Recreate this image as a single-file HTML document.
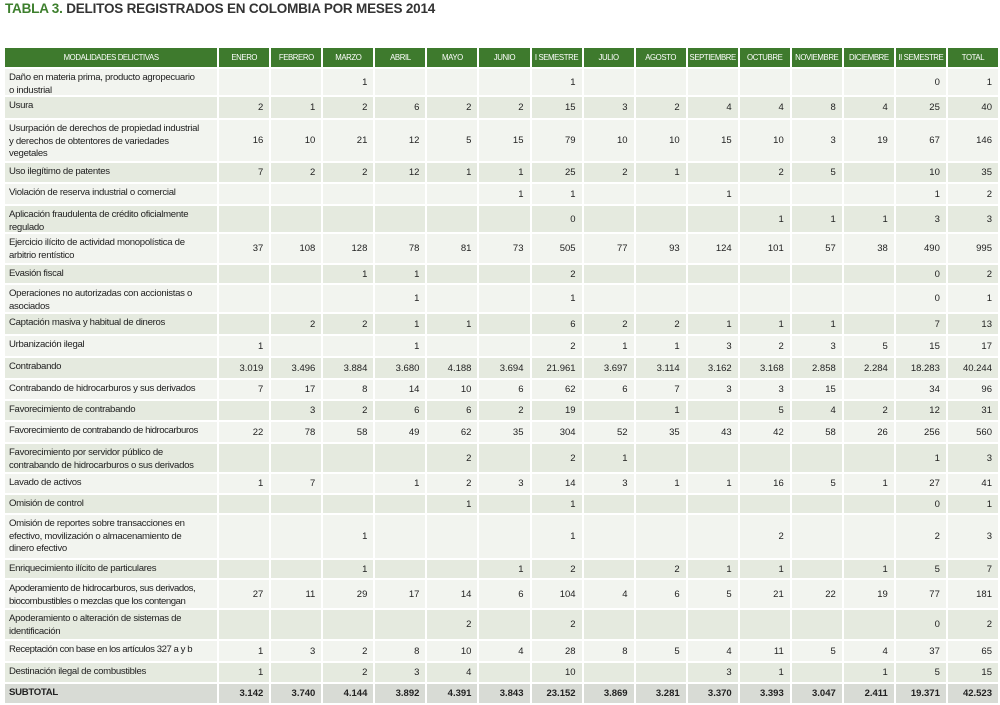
<!DOCTYPE html>
<html><head><meta charset="utf-8"><style>
body{margin:0;background:#fff;width:1000px;height:705px;overflow:hidden;font-family:"Liberation Sans",sans-serif;}
h1{position:absolute;left:5px;top:1px;margin:0;font-size:13.5px;font-weight:bold;color:#333;letter-spacing:-0.2px}
h1 span{color:#3d7f2d}
table{position:absolute;left:3px;top:46px;border-collapse:separate;border-spacing:2px;table-layout:fixed;width:997px}
td,th{padding:0;font-size:9.5px;color:#222;overflow:hidden}
th{background:#3e7a2d;color:#fff;font-weight:normal;font-size:7.8px;height:19px;text-align:center;letter-spacing:-0.4px;white-space:nowrap}
td{text-align:right;padding-right:6px;vertical-align:middle}
td:first-child{text-align:left;padding-left:4px;padding-right:0;vertical-align:top;line-height:12.5px;letter-spacing:-0.3px;font-size:9.6px;white-space:nowrap}
td:first-child div{overflow:hidden;padding-top:3px;box-sizing:border-box}
tr.a td{background:#f2f4ef}
tr.b td{background:#e5eadf}
tr.s td{background:#d8dbd5;font-weight:bold}
</style></head><body>
<h1><span>TABLA 3.</span> DELITOS REGISTRADOS EN COLOMBIA POR MESES 2014</h1>
<table>
<colgroup><col style="width:212px"><col span="15" style="width:50px"></colgroup>
<tr><th>MODALIDADES DELICTIVAS</th><th>ENERO</th><th>FEBRERO</th><th>MARZO</th><th>ABRIL</th><th>MAYO</th><th>JUNIO</th><th>I SEMESTRE</th><th>JULIO</th><th>AGOSTO</th><th>SEPTIEMBRE</th><th>OCTUBRE</th><th>NOVIEMBRE</th><th>DICIEMBRE</th><th>II SEMESTRE</th><th>TOTAL</th></tr>
<tr class="a"><td><div style="height:26px">Daño en materia prima, producto agropecuario<br>o industrial</div></td><td></td><td></td><td>1</td><td></td><td></td><td></td><td>1</td><td></td><td></td><td></td><td></td><td></td><td></td><td>0</td><td>1</td></tr>
<tr class="b"><td><div style="height:21px">Usura</div></td><td>2</td><td>1</td><td>2</td><td>6</td><td>2</td><td>2</td><td>15</td><td>3</td><td>2</td><td>4</td><td>4</td><td>8</td><td>4</td><td>25</td><td>40</td></tr>
<tr class="a"><td><div style="height:41px">Usurpación de derechos de propiedad industrial<br>y derechos de obtentores de variedades<br>vegetales</div></td><td>16</td><td>10</td><td>21</td><td>12</td><td>5</td><td>15</td><td>79</td><td>10</td><td>10</td><td>15</td><td>10</td><td>3</td><td>19</td><td>67</td><td>146</td></tr>
<tr class="b"><td><div style="height:19px">Uso ilegítimo de patentes</div></td><td>7</td><td>2</td><td>2</td><td>12</td><td>1</td><td>1</td><td>25</td><td>2</td><td>1</td><td></td><td>2</td><td>5</td><td></td><td>10</td><td>35</td></tr>
<tr class="a"><td><div style="height:20px">Violación de reserva industrial o comercial</div></td><td></td><td></td><td></td><td></td><td></td><td>1</td><td>1</td><td></td><td></td><td>1</td><td></td><td></td><td></td><td>1</td><td>2</td></tr>
<tr class="b"><td><div style="height:26px">Aplicación fraudulenta de crédito oficialmente<br>regulado</div></td><td></td><td></td><td></td><td></td><td></td><td></td><td>0</td><td></td><td></td><td></td><td>1</td><td>1</td><td>1</td><td>3</td><td>3</td></tr>
<tr class="a"><td><div style="height:29px">Ejercicio ilícito de actividad monopolística de<br>arbitrio rentístico</div></td><td>37</td><td>108</td><td>128</td><td>78</td><td>81</td><td>73</td><td>505</td><td>77</td><td>93</td><td>124</td><td>101</td><td>57</td><td>38</td><td>490</td><td>995</td></tr>
<tr class="b"><td><div style="height:18px">Evasión fiscal</div></td><td></td><td></td><td>1</td><td>1</td><td></td><td></td><td>2</td><td></td><td></td><td></td><td></td><td></td><td></td><td>0</td><td>2</td></tr>
<tr class="a"><td><div style="height:27px">Operaciones no autorizadas con accionistas o<br>asociados</div></td><td></td><td></td><td></td><td>1</td><td></td><td></td><td>1</td><td></td><td></td><td></td><td></td><td></td><td></td><td>0</td><td>1</td></tr>
<tr class="b"><td><div style="height:20px">Captación masiva y habitual de dineros</div></td><td></td><td>2</td><td>2</td><td>1</td><td>1</td><td></td><td>6</td><td>2</td><td>2</td><td>1</td><td>1</td><td>1</td><td></td><td>7</td><td>13</td></tr>
<tr class="a"><td><div style="height:20px">Urbanización ilegal</div></td><td>1</td><td></td><td></td><td>1</td><td></td><td></td><td>2</td><td>1</td><td>1</td><td>3</td><td>2</td><td>3</td><td>5</td><td>15</td><td>17</td></tr>
<tr class="b"><td><div style="height:20px">Contrabando</div></td><td>3.019</td><td>3.496</td><td>3.884</td><td>3.680</td><td>4.188</td><td>3.694</td><td>21.961</td><td>3.697</td><td>3.114</td><td>3.162</td><td>3.168</td><td>2.858</td><td>2.284</td><td>18.283</td><td>40.244</td></tr>
<tr class="a"><td><div style="height:19px">Contrabando de hidrocarburos y sus derivados</div></td><td>7</td><td>17</td><td>8</td><td>14</td><td>10</td><td>6</td><td>62</td><td>6</td><td>7</td><td>3</td><td>3</td><td>15</td><td></td><td>34</td><td>96</td></tr>
<tr class="b"><td><div style="height:19px">Favorecimiento de contrabando</div></td><td></td><td>3</td><td>2</td><td>6</td><td>6</td><td>2</td><td>19</td><td></td><td>1</td><td></td><td>5</td><td>4</td><td>2</td><td>12</td><td>31</td></tr>
<tr class="a"><td><div style="height:20px;letter-spacing:-0.45px">Favorecimiento de contrabando de hidrocarburos</div></td><td>22</td><td>78</td><td>58</td><td>49</td><td>62</td><td>35</td><td>304</td><td>52</td><td>35</td><td>43</td><td>42</td><td>58</td><td>26</td><td>256</td><td>560</td></tr>
<tr class="b"><td><div style="height:28px">Favorecimiento por servidor público de<br>contrabando de hidrocarburos o sus derivados</div></td><td></td><td></td><td></td><td></td><td>2</td><td></td><td>2</td><td>1</td><td></td><td></td><td></td><td></td><td></td><td>1</td><td>3</td></tr>
<tr class="a"><td><div style="height:19px">Lavado de activos</div></td><td>1</td><td>7</td><td></td><td>1</td><td>2</td><td>3</td><td>14</td><td>3</td><td>1</td><td>1</td><td>16</td><td>5</td><td>1</td><td>27</td><td>41</td></tr>
<tr class="b"><td><div style="height:18px">Omisión de control</div></td><td></td><td></td><td></td><td></td><td>1</td><td></td><td>1</td><td></td><td></td><td></td><td></td><td></td><td></td><td>0</td><td>1</td></tr>
<tr class="a"><td><div style="height:43px">Omisión de reportes sobre transacciones en<br>efectivo, movilización o almacenamiento de<br>dinero efectivo</div></td><td></td><td></td><td>1</td><td></td><td></td><td></td><td>1</td><td></td><td></td><td></td><td>2</td><td></td><td></td><td>2</td><td>3</td></tr>
<tr class="b"><td><div style="height:18px">Enriquecimiento ilícito de particulares</div></td><td></td><td></td><td>1</td><td></td><td></td><td>1</td><td>2</td><td></td><td>2</td><td>1</td><td>1</td><td></td><td>1</td><td>5</td><td>7</td></tr>
<tr class="a"><td><div style="height:28px;letter-spacing:-0.45px">Apoderamiento de hidrocarburos, sus derivados,<br>biocombustibles o mezclas que los contengan</div></td><td>27</td><td>11</td><td>29</td><td>17</td><td>14</td><td>6</td><td>104</td><td>4</td><td>6</td><td>5</td><td>21</td><td>22</td><td>19</td><td>77</td><td>181</td></tr>
<tr class="b"><td><div style="height:29px">Apoderamiento o alteración de sistemas de<br>identificación</div></td><td></td><td></td><td></td><td></td><td>2</td><td></td><td>2</td><td></td><td></td><td></td><td></td><td></td><td></td><td>0</td><td>2</td></tr>
<tr class="a"><td><div style="height:20px;letter-spacing:-0.45px">Receptación con base en los artículos 327 a y b</div></td><td>1</td><td>3</td><td>2</td><td>8</td><td>10</td><td>4</td><td>28</td><td>8</td><td>5</td><td>4</td><td>11</td><td>5</td><td>4</td><td>37</td><td>65</td></tr>
<tr class="b"><td><div style="height:19px">Destinación ilegal de combustibles</div></td><td>1</td><td></td><td>2</td><td>3</td><td>4</td><td></td><td>10</td><td></td><td></td><td>3</td><td>1</td><td></td><td>1</td><td>5</td><td>15</td></tr>
<tr class="s"><td><div style="height:19px">SUBTOTAL</div></td><td>3.142</td><td>3.740</td><td>4.144</td><td>3.892</td><td>4.391</td><td>3.843</td><td>23.152</td><td>3.869</td><td>3.281</td><td>3.370</td><td>3.393</td><td>3.047</td><td>2.411</td><td>19.371</td><td>42.523</td></tr>
</table>
</body></html>
